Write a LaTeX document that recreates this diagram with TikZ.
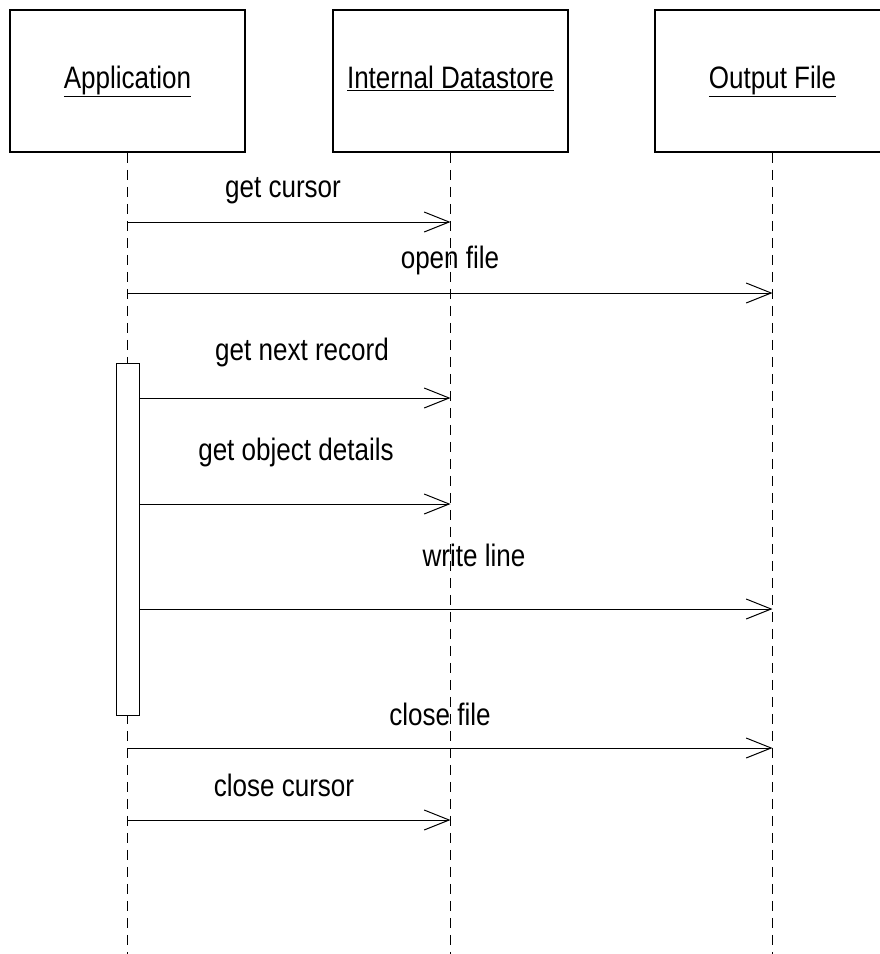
\documentclass[tikz,border=0pt]{standalone}
\usepackage{fontspec}
\setmainfont[FakeStretch=0.84]{Liberation Sans}
\usetikzlibrary{arrows.meta,positioning}
\tikzset{
    object/.style={
    rectangle,draw=black,line width=1.5pt,minimum width=235pt,minimum height=142pt,
    text height=23pt,text depth=9pt,font=\fontsize{31}{36}\selectfont
    },
    lifeline/.style={
    draw=black,line width=1.5pt,dash pattern=on 10pt off 7pt
    },
    activation/.style={
    rectangle,draw=black,fill=white,line width=1pt,minimum width=23pt,minimum height=352pt,inner sep=0pt
    },
    message/.style={
    draw=black,line width=1pt,-{Straight Barb[length=25pt,width=20pt,line width=1pt]}
    },
    msglabel/.style={
    anchor=base,font=\fontsize{31}{36}\selectfont,inner sep=0pt
    },
}

\begin{document}
\begin{tikzpicture}[x=1pt,y=-1pt]
  \useasboundingbox (0,0) rectangle (880,954);
  % objects
  \node[object] (app) at (127.5,81) {\underline{Application}};
  \node[object] (store) at (450.5,81) {\underline{Internal Datastore}};
  \node[object] (file) at (772.5,81) {\underline{Output File}};
  % lifelines
  \coordinate (bottom) at (0,956);
  \draw[lifeline] (app.south) -- (app.south |- bottom);
  \draw[lifeline] (store.south) -- (store.south |- bottom);
  \draw[lifeline] (file.south) -- (file.south |- bottom);
  \node[activation] (act) at (127.5,539) {};
  % message rows
  \coordinate (y1) at (0,222);
  \coordinate (y2) at (0,293);
  \coordinate (y3) at (0,398);
  \coordinate (y4) at (0,504);
  \coordinate (y5) at (0,609);
  \coordinate (y6) at (0,748);
  \coordinate (y7) at (0,820);
  \draw[message] (app |- y1) -- (store |- y1);
  \draw[message] (app |- y2) -- (file |- y2);
  \draw[message] (act.east |- y3) -- (store |- y3);
  \draw[message] (act.east |- y4) -- (store |- y4);
  \draw[message] (act.east |- y5) -- (file |- y5);
  \draw[message] (app |- y6) -- (file |- y6);
  \draw[message] (app |- y7) -- (store |- y7);
  % labels
  \node[msglabel] (l1) at (283,197) {get cursor};
  \node[msglabel] (l2) at (450,268) {open file};
  \node[msglabel] (l3) at (302,360) {get next record};
  \node[msglabel] (l4) at (296,460) {get object details};
  \node[msglabel] (l5) at (474,566) {write line};
  \node[msglabel] (l6) at (440,725) {close file};
  \node[msglabel] (l7) at (284,796) {close cursor};
\end{tikzpicture}
\end{document}
